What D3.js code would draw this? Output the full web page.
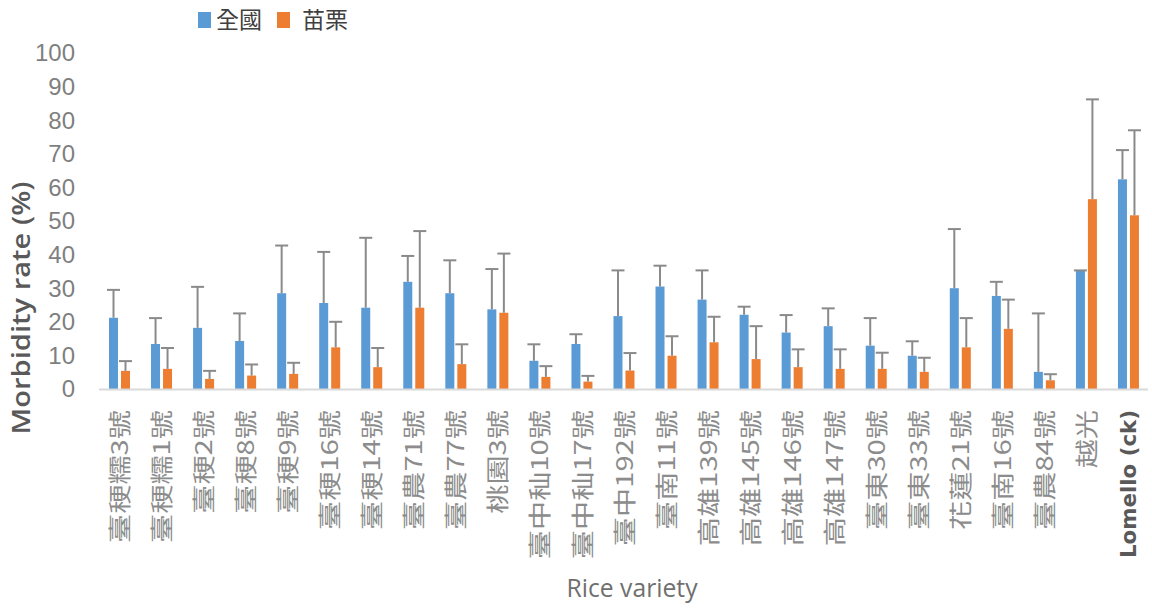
<!DOCTYPE html>
<html>
<head>
<meta charset="utf-8">
<script src="https://cdn.jsdelivr.net/npm/d3@7"></script>
<style>
  body { margin: 0; background: #fff; }
  svg { display: block; }
</style>
</head>
<body>
<svg id="chart" width="1152" height="609"></svg>
<script>
// data
const varieties = ["臺稉糯3號", "臺稉糯1號", "臺稉2號", "臺稉8號", "臺稉9號", "臺稉16號", "臺稉14號",
  "臺農71號", "臺農77號", "桃園3號", "臺中秈10號", "臺中秈17號", "臺中192號", "臺南11號",
  "高雄139號", "高雄145號", "高雄146號", "高雄147號", "臺東30號", "臺東33號", "花蓮21號",
  "臺南16號", "臺農84號", "越光", "Lomello (ck)"];
const series = ["全國", "苗栗"];
const national = [21.2, 13.4, 18.2, 14.3, 28.5, 25.6, 24.2, 31.9, 28.5, 23.7, 8.4, 13.4, 21.7, 30.5,
  26.6, 22.1, 16.8, 18.7, 12.9, 9.9, 30.0, 27.7, 5.1, 35.3, 62.4];
const nationalErr = [8.3, 7.7, 12.2, 8.2, 14.2, 15.2, 20.8, 7.7, 9.8, 12.0, 4.9, 2.9, 13.6, 6.2,
  8.7, 2.4, 5.2, 5.3, 8.2, 4.3, 17.6, 4.2, 17.4, 0, 8.7];
const miaoli = [5.4, 6.0, 3.0, 4.0, 4.5, 12.4, 6.5, 24.2, 7.4, 22.7, 3.6, 2.2, 5.5, 9.9,
  13.9, 8.9, 6.5, 6.0, 6.0, 5.1, 12.4, 17.9, 2.6, 56.5, 51.7];
const miaoliErr = [2.9, 6.2, 2.4, 3.3, 3.3, 7.6, 5.7, 22.8, 5.9, 17.6, 3.2, 1.7, 5.2, 5.8,
  7.6, 9.8, 5.3, 5.8, 4.8, 4.2, 8.7, 8.7, 1.8, 29.7, 25.3];
const yTicks = [0, 10, 20, 30, 40, 50, 60, 70, 80, 90, 100];

const colors = { "全國": "#5b9bd5", "苗栗": "#ed7d31" };

const svg = d3.select("#chart");

const x0 = d3.scaleBand().domain(varieties).range([99, 1150]);
const x1 = d3.scaleBand().domain(series).range([10, 31]).paddingInner(0.25);
const y = d3.scaleLinear().domain([0, 100]).range([389, 53]);

// rows for bars
const rows = [];
varieties.forEach((v, i) => {
  rows.push({ cat: v, s: "全國", val: national[i], err: nationalErr[i] });
  rows.push({ cat: v, s: "苗栗", val: miaoli[i], err: miaoliErr[i] });
});

// y tick labels (no axis line in the original)
svg.append("g")
  .selectAll("text")
  .data(yTicks)
  .join("text")
  .attr("x", 75)
  .attr("y", d => y(d))
  .attr("dy", "0.35em")
  .attr("text-anchor", "end")
  .attr("font-family", "Liberation Sans, Arial, sans-serif")
  .attr("font-size", 24)
  .attr("fill", "#7f7f7f")
  .text(d => d);

// bars
svg.append("g")
  .selectAll("rect")
  .data(rows)
  .join("rect")
  .attr("x", d => x0(d.cat) + x1(d.s))
  .attr("y", d => y(d.val))
  .attr("width", x1.bandwidth())
  .attr("height", d => y(0) - y(d.val))
  .attr("fill", d => colors[d.s]);

// error bars (upper only)
const eb = svg.append("g").attr("stroke", "#8a8a8a").attr("stroke-width", 2);
eb.selectAll("line.v")
  .data(rows)
  .join("line")
  .attr("class", "v")
  .attr("x1", d => x0(d.cat) + x1(d.s) + x1.bandwidth() / 2)
  .attr("x2", d => x0(d.cat) + x1(d.s) + x1.bandwidth() / 2)
  .attr("y1", d => y(d.val))
  .attr("y2", d => y(d.val + d.err));
eb.selectAll("line.cap")
  .data(rows)
  .join("line")
  .attr("class", "cap")
  .attr("x1", d => x0(d.cat) + x1(d.s) + x1.bandwidth() / 2 - 6.5)
  .attr("x2", d => x0(d.cat) + x1(d.s) + x1.bandwidth() / 2 + 6.5)
  .attr("y1", d => y(d.val + d.err))
  .attr("y2", d => y(d.val + d.err));

// x axis line
svg.append("line")
  .attr("x1", x0.range()[0]).attr("x2", x0.range()[1] - 2)
  .attr("y1", y(0) + 0.5).attr("y2", y(0) + 0.5)
  .attr("stroke", "#d9d9d9").attr("stroke-width", 2);

// category labels, vertical
svg.append("g")
  .selectAll("text")
  .data(varieties)
  .join("text")
  .attr("transform", d => {
    const cx = x0(d) + x0.bandwidth() / 2;
    return d.startsWith("Lomello")
      ? `translate(${cx},410) rotate(-90)`
      : `translate(${cx},410) rotate(-90) scale(1.27,1)`;
  })
  .attr("text-anchor", "end")
  .attr("dy", "0.35em")
  .attr("font-family", d => d.startsWith("Lomello") ? "DejaVu Sans, sans-serif" : "Noto Sans CJK TC, sans-serif")
  .attr("font-weight", d => d.startsWith("Lomello") ? "bold" : "normal")
  .attr("font-size", d => d.startsWith("Lomello") ? 21 : 23)
  .attr("fill", d => d.startsWith("Lomello") ? "#595959" : "#8c8c8c")
  .each(function (d) {
    if (d.startsWith("Lomello")) {
      d3.select(this).attr("textLength", 148).attr("lengthAdjust", "spacingAndGlyphs");
    }
  })
  .text(d => d);

// axis titles
svg.append("text")
  .attr("transform", "translate(30,308) rotate(-90)")
  .attr("text-anchor", "middle")
  .attr("font-family", "Open Sans, sans-serif")
  .attr("font-weight", 600)
  .attr("font-size", 25)
  .attr("fill", "#595959")
  .attr("textLength", 253)
  .attr("lengthAdjust", "spacingAndGlyphs")
  .text("Morbidity rate (%)");

svg.append("text")
  .attr("x", 632)
  .attr("y", 597)
  .attr("text-anchor", "middle")
  .attr("font-family", "Open Sans, sans-serif")
  .attr("font-size", 26)
  .attr("fill", "#6f6f6f")
  .attr("textLength", 131)
  .attr("lengthAdjust", "spacingAndGlyphs")
  .text("Rice variety");

// legend
const legendX = [198, 277];
const legendTextX = [216, 302];
const lg = svg.append("g");
series.forEach((s, i) => {
  lg.append("rect")
    .attr("x", legendX[i]).attr("y", 12)
    .attr("width", 13).attr("height", 16)
    .attr("fill", colors[s]);
  lg.append("text")
    .attr("x", legendTextX[i]).attr("y", 20)
    .attr("dy", "0.35em")
    .attr("font-family", "Noto Sans CJK TC, sans-serif")
    .attr("font-size", 23)
    .attr("fill", "#404040")
    .text(s);
});
</script>
</body>
</html>
